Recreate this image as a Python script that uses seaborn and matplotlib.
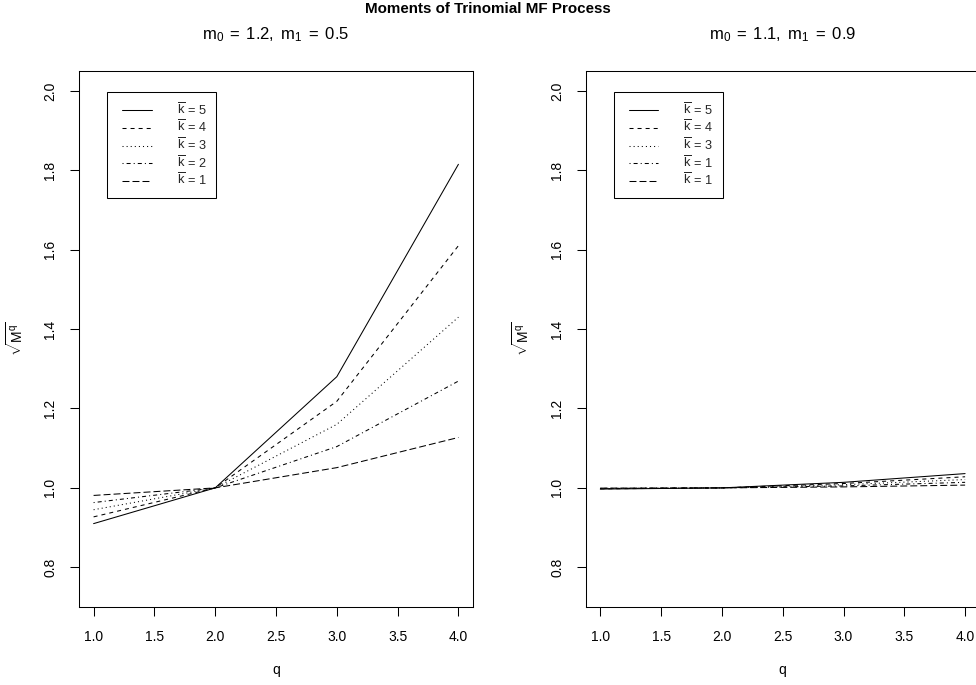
import matplotlib
matplotlib.use("Agg")
import matplotlib.pyplot as plt
from matplotlib.lines import Line2D
from matplotlib.legend_handler import HandlerLine2D
import seaborn as sns
import pandas as pd

# q values on the x axis
q = [1, 2, 3, 4]

# sqrt of the q-th moment for each cascade depth, left panel (m0 = 1.2, m1 = 0.5)
left_k5 = [0.910, 1.000, 1.280, 1.815]
left_k4 = [0.927, 1.000, 1.218, 1.610]
left_k3 = [0.945, 1.000, 1.160, 1.430]
left_k2 = [0.963, 1.000, 1.104, 1.269]
left_k1 = [0.981, 1.000, 1.051, 1.127]

# right panel (m0 = 1.1, m1 = 0.9)
right_k5 = [0.9970, 1.000, 1.0140, 1.0360]
right_k4 = [0.9976, 1.000, 1.0110, 1.0280]
right_k3 = [0.9982, 1.000, 1.0080, 1.0210]
right_k2 = [0.9988, 1.000, 1.0050, 1.0140]
right_k1 = [0.9994, 1.000, 1.0025, 1.0070]

left_legend = ["5", "4", "3", "2", "1"]
right_legend = ["5", "4", "3", "1", "1"]

panel_titles = [r"$\mathrm{m}_0\;=\;1.2,\ \mathrm{m}_1\;=\;0.5$",
                r"$\mathrm{m}_0\;=\;1.1,\ \mathrm{m}_1\;=\;0.9$"]
main_title = "Moments of Trinomial MF Process"
x_ticks = [1.0, 1.5, 2.0, 2.5, 3.0, 3.5, 4.0]
y_ticks = [0.8, 1.0, 1.2, 1.4, 1.6, 1.8, 2.0]

sns.set_theme(style="white")
plt.rcParams["font.family"] = ["Liberation Sans", "DejaVu Sans"]
plt.rcParams["mathtext.fontset"] = "custom"
plt.rcParams["mathtext.rm"] = "Liberation Sans"
plt.rcParams["mathtext.it"] = "Liberation Sans"
plt.rcParams["mathtext.bf"] = "Liberation Sans:bold"
plt.rcParams["lines.scale_dashes"] = False

# R-style line types: solid, dashed, dotted, dotdash, longdash (in points)
dash_map = {
    5: "",
    4: (2.9, 2.9),
    3: (0.75, 2.2),
    2: (0.75, 2.2, 2.9, 2.2),
    1: (5.0, 2.2),
}
order = [5, 4, 3, 2, 1]


def long_frame(series):
    rows = []
    for k, vals in zip(order, series):
        for qq, v in zip(q, vals):
            rows.append({"q": qq, "M": v, "k": k})
    return pd.DataFrame(rows)


W, H = 976, 685
fig = plt.figure(figsize=(W / 100, H / 100), dpi=100)

ax_w = 394 / W
ax_h = 536 / H
ax_b = 1 - 607 / H
axes = [fig.add_axes([79 / W, ax_b, ax_w, ax_h]),
        fig.add_axes([585.7 / W, ax_b, ax_w, ax_h])]

panels = [
    ([left_k5, left_k4, left_k3, left_k2, left_k1], left_legend),
    ([right_k5, right_k4, right_k3, right_k2, right_k1], right_legend),
]

lw = 0.75
for ax, (series, leg), ttl in zip(axes, panels, panel_titles):
    df = long_frame(series)
    sns.lineplot(data=df, x="q", y="M", style="k", style_order=order,
                 dashes=dash_map, color="black", linewidth=lw,
                 estimator=None, sort=False, legend=False, ax=ax)
    ax.set_xlim(1 - 0.12, 4 + 0.12)
    ax.set_ylim(0.75 - 0.05, 2.0 + 0.05)
    ax.set_xticks(x_ticks)
    ax.set_xticklabels([f"{t:.1f}" for t in x_ticks])
    ax.set_yticks(y_ticks)
    ax.set_yticklabels([f"{t:.1f}" for t in y_ticks], rotation=90, va="center")
    ax.tick_params(axis="both", direction="out", length=6.5, width=0.75,
                   color="black", labelsize=10, labelcolor="black",
                   bottom=True, left=True)
    ax.tick_params(axis="x", pad=10)
    ax.tick_params(axis="y", pad=9)
    for s in ax.spines.values():
        s.set_visible(True)
        s.set_color("black")
        s.set_linewidth(0.75)
    ax.set_xlabel("q", fontsize=10, labelpad=14, color="black")
    ax.set_ylabel(r"$\sqrt{\mathrm{M}^\mathrm{q}}$", fontsize=10, labelpad=13,
                  color="black")
    ax.set_title(ttl, fontsize=12, pad=23, color="black")

    handles = []
    for k in order:
        h = Line2D([], [], color="black", linewidth=lw, linestyle="-")
        if dash_map[k]:
            h.set_dashes(dash_map[k])
        handles.append(h)
    labels = [r"$\overline{\mathrm{k}}\,=\," + v + r"\;$" for v in leg]
    lg = ax.legend(handles, labels, loc="upper left",
                   bbox_to_anchor=(0.071, 0.961), borderaxespad=0,
                   frameon=True, fancybox=False, fontsize=9.2,
                   handlelength=2.75, handletextpad=1.95, labelspacing=0.12,
                   borderpad=0.75,
                   handler_map={Line2D: HandlerLine2D(xpad=0.45)})
    fr = lg.get_frame()
    fr.set_edgecolor("black")
    fr.set_linewidth(0.75)
    fr.set_alpha(1)

fig.text(0.5, 1 - 9 / H, main_title, ha="center", va="center",
         fontsize=10.9, fontweight="bold", color="black")

fig.savefig("out.png", dpi=100, facecolor="white")
